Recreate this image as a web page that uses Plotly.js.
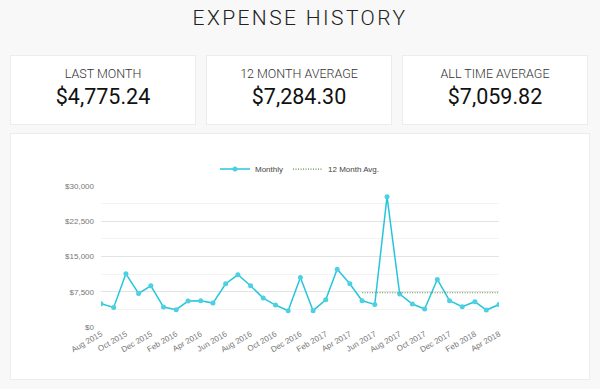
<!DOCTYPE html>
<html>
<head>
<meta charset="utf-8">
<script src="https://cdn.plot.ly/plotly-3.0.1.min.js"></script>
<style>
  html, body { margin:0; padding:0; background:#f8f8f8; width:600px; height:389px; overflow:hidden; font-family: "Roboto Light", Roboto, "Open Sans", sans-serif; }
  #title { position:absolute; left:0; top:6px; width:600px; text-align:center; font-size:21px; font-weight:300; letter-spacing:2.4px; color:#222; }
  .card { position:absolute; top:55px; width:186px; height:70px; background:#fff; border:1px solid #ececec; box-sizing:border-box; text-align:center; }
  .card .lbl { margin-top:10px; font-size:12.5px; font-weight:300; color:#333; }
  .card .val { margin-top:3px; font-family: Roboto, sans-serif; font-size:21.5px; font-weight:400; color:#111; }
  #chartcard { position:absolute; left:10px; top:133px; width:580px; height:247px; background:#fff; border:1px solid #ececec; box-sizing:border-box; }
  #chart { position:absolute; left:10px; top:133px; width:580px; height:247px; }
</style>
</head>
<body>
<div id="title">EXPENSE HISTORY</div>
<div class="card" style="left:10px"><div class="lbl">LAST MONTH</div><div class="val">$4,775.24</div></div>
<div class="card" style="left:206px"><div class="lbl">12 MONTH AVERAGE</div><div class="val">$7,284.30</div></div>
<div class="card" style="left:402px"><div class="lbl">ALL TIME AVERAGE</div><div class="val">$7,059.82</div></div>
<div id="chartcard"></div>
<div id="chart"></div>
<script>
const months = ['2015-08-01','2015-09-01','2015-10-01','2015-11-01','2015-12-01','2016-01-01','2016-02-01','2016-03-01','2016-04-01','2016-05-01','2016-06-01','2016-07-01','2016-08-01','2016-09-01','2016-10-01','2016-11-01','2016-12-01','2017-01-01','2017-02-01','2017-03-01','2017-04-01','2017-05-01','2017-06-01','2017-07-01','2017-08-01','2017-09-01','2017-10-01','2017-11-01','2017-12-01','2018-01-01','2018-02-01','2018-03-01','2018-04-01'];
const monthly = [4950,4170,11320,7150,8770,4250,3680,5520,5590,5090,9200,11110,8770,6150,4670,3470,10540,3470,5800,12310,9200,5590,4810,27730,7000,4880,3820,10120,5590,4320,5380,3610,4775.24];
const avgMonths = ['2017-05-01','2017-06-01','2017-07-01','2017-08-01','2017-09-01','2017-10-01','2017-11-01','2017-12-01','2018-01-01','2018-02-01','2018-03-01','2018-04-01'];
const avg12 = [7284.30,7284.30,7284.30,7284.30,7284.30,7284.30,7284.30,7284.30,7284.30,7284.30,7284.30,7284.30];

const traces = [
  {x: months, y: monthly, type:'scatter', mode:'lines+markers', name:'Monthly',
   line:{color:'#26c6da', width:1.5}, marker:{color:'#4dd0e1', size:5}},
  {x: avgMonths, y: avg12, type:'scatter', mode:'lines', name:'12 Month Avg.',
   line:{color:'#5f8f3e', width:1.2, dash:'1px,1.5px'}}
];
const layout = {
  width:580, height:247,
  margin:{l:91, r:91, t:53, b:53},
  paper_bgcolor:'rgba(0,0,0,0)', plot_bgcolor:'#fff',
  font:{family:'"Liberation Sans", Arial, sans-serif', size:8, color:'#666'},
  showlegend:true,
  legend:{orientation:'h', x:0.5, xanchor:'center', y:1.12, yanchor:'middle', font:{size:8, color:'#444'},
          itemwidth:30, tracegroupgap:0},
  xaxis:{type:'date', range:['2015-08-01','2018-04-01'], dtick:'M2', tick0:'2015-08-01', tickformat:'%b %Y', tickangle:-30,
         showgrid:false, zeroline:false, showline:false, ticks:'', tickfont:{size:8, color:'#777'}, automargin:false},
  yaxis:{range:[0,30000], dtick:7500, tickprefix:'$', tickformat:',d', showline:false, zeroline:false,
         gridcolor:'#e3e3e3', gridwidth:1, ticks:'', ticklabelstandoff:6, tickfont:{size:8, color:'#777'}, automargin:false,
         minor:{dtick:3750, showgrid:true, gridcolor:'#f3f3f3', gridwidth:1}},
  hovermode:false
};
Plotly.newPlot('chart', traces, layout, {displayModeBar:false, staticPlot:true});
</script>
</body>
</html>
